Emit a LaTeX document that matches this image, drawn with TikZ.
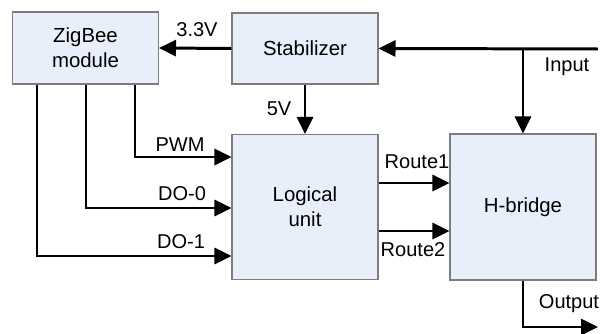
\documentclass[tikz,border=0pt]{standalone}
\usepackage{fontspec}
\setmainfont{Liberation Sans}
\usepackage{tikz}
\usetikzlibrary{arrows.meta}
\usetikzlibrary{positioning}
\definecolor{boxfill}{RGB}{232,238,250}
\definecolor{boxline}{RGB}{125,125,125}

\begin{document}
\begin{tikzpicture}[x=0.02cm,y=-0.02cm,>={Triangle[length=0.34cm,width=0.32cm]},
  blk/.style={draw=boxline,fill=boxfill,line width=0.6pt,minimum width=2.92cm,align=center,font=\fontsize{11.6}{14}\selectfont},
  wire/.style={line width=1.7pt},
  lbl/.style={font=\fontsize{11.4}{13}\selectfont,inner sep=0pt}]
\useasboundingbox (0,0) rectangle (600,334);
% blocks
\node[blk,minimum height=1.44cm] (zigbee) at (85.5,48) {ZigBee\\module};
\node[blk,minimum height=1.42cm] (stab) at (305,48.5) {Stabilizer};
\node[blk,minimum height=2.9cm] (logic) at (305,207) {Logical\\unit};
\node[blk,minimum height=2.92cm] (hbridge) at (523,207) {H-bridge};
% supply
\coordinate (inp) at (598,49);
\draw[wire,->] (inp) -- (stab.east);
\draw[wire,->] (inp -| hbridge) -- (hbridge.north);
\draw[wire,->] (stab.west) -- (zigbee.east);
\draw[wire,->] (stab.south) -- (logic.north);
\node[lbl] (inlbl) at (567,67) {Input};
\node[lbl] (v33) at (197,30) {3.3V};
\node[lbl] (v5) at (279,109) {5V};
% control lines
\coordinate (pwm) at (135,157); \coordinate (do0) at (86,208); \coordinate (do1) at (37,256);
\draw[wire,->] (zigbee.south -| pwm) |- (logic.west |- pwm);
\draw[wire,->] (zigbee.south -| do0) |- (logic.west |- do0);
\draw[wire,->] (zigbee.south -| do1) |- (logic.west |- do1);
\node[lbl] (pwmlbl) at (180,145) {PWM};
\node[lbl] (do0lbl) at (182,194) {DO-0};
\node[lbl] (do1lbl) at (181,242) {DO-1};
% routes
\coordinate (r1) at (400,183); \coordinate (r2) at (400,231);
\draw[wire,->] (logic.east |- r1) -- (hbridge.west |- r1);
\draw[wire,->] (logic.east |- r2) -- (hbridge.west |- r2);
\node[lbl] (r1lbl) at (417,162) {Route1};
\node[lbl] (r2lbl) at (413,250) {Route2};
% output
\coordinate (out) at (598,327);
\draw[wire,->] (hbridge.south) |- (out);
\node[lbl] (outlbl) at (569,304) {Output};
\end{tikzpicture}
\end{document}
